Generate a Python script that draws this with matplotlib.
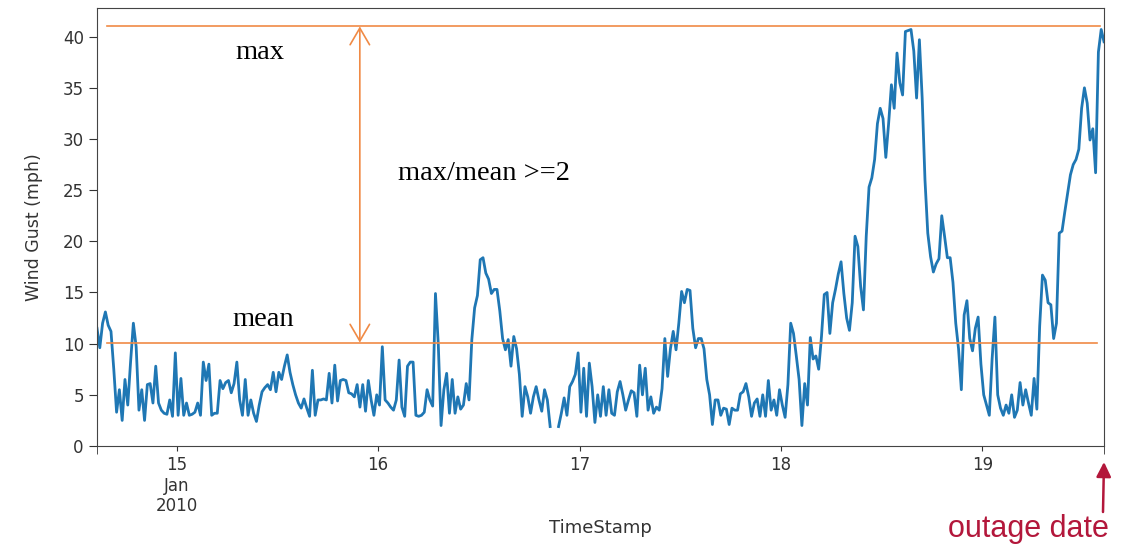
import numpy as np
import pandas as pd
import matplotlib
matplotlib.use('Agg')
import matplotlib.pyplot as plt
import matplotlib.dates as mdates
from matplotlib.ticker import FuncFormatter

# Wind gust readings every 20 minutes, Jan 14 14:30 -> Jan 19 14:30 2010
start_time = '2010-01-14 14:30'
step = '20min'
gust_mph = [
    11.5, 9.6, 12.0, 13.1, 11.8, 11.2, 7.5, 3.3, 5.5, 2.5, 6.5, 4.0,
    8.2, 12.0, 9.7, 3.5, 5.5, 2.5, 6.0, 6.1, 4.2, 7.8, 4.2, 3.5,
    3.2, 3.1, 4.5, 2.9, 9.1, 3.0, 6.6, 3.0, 4.2, 3.0, 3.1, 3.3,
    4.2, 3.0, 8.2, 6.4, 8.0, 3.0, 3.2, 3.2, 6.4, 5.6, 6.2, 6.4,
    5.2, 6.1, 8.2, 4.5, 3.0, 6.5, 3.0, 4.5, 3.2, 2.4, 4.0, 5.3,
    5.7, 6.0, 5.5, 7.2, 5.3, 7.2, 6.5, 7.8, 8.9, 7.2, 6.0, 5.0,
    4.2, 3.7, 4.6, 3.7, 2.9, 7.4, 3.0, 4.5, 4.5, 4.6, 4.5, 7.1,
    4.2, 7.9, 4.4, 6.4, 6.5, 6.4, 5.2, 5.1, 4.8, 6.0, 3.8, 6.0,
    3.4, 6.4, 4.5, 3.0, 5.0, 4.0, 9.7, 4.5, 4.2, 3.8, 3.5, 4.5,
    8.4, 3.8, 2.9, 7.8, 8.2, 8.2, 3.0, 2.9, 3.0, 3.3, 5.5, 4.5,
    3.9, 14.9, 10.0, 2.0, 5.5, 7.1, 3.2, 6.5, 3.2, 4.8, 3.6, 4.0,
    6.1, 4.5, 10.4, 13.5, 14.7, 18.2, 18.4, 16.9, 16.3, 14.9, 15.3, 15.3,
    13.2, 10.5, 9.4, 10.4, 7.8, 10.7, 9.5, 7.0, 2.9, 5.8, 4.8, 3.2,
    4.8, 5.8, 4.5, 3.4, 5.5, 4.5, 1.9, np.nan, np.nan, 1.9, 3.2, 4.7,
    3.0, 5.8, 6.3, 7.0, 9.1, 3.3, 7.6, 2.9, 8.1, 5.8, 2.3, 5.0,
    2.9, 5.8, 3.0, 5.5, 3.2, 3.0, 5.3, 6.3, 5.0, 3.5, 4.5, 5.4,
    5.2, 2.9, 7.9, 5.0, 7.6, 3.5, 4.8, 3.2, 3.8, 3.5, 5.6, 10.5,
    6.8, 9.5, 11.2, 9.4, 12.0, 15.1, 14.0, 15.3, 15.2, 11.5, 9.6, 10.5,
    10.5, 9.5, 6.5, 5.0, 2.1, 4.5, 4.5, 3.0, 3.7, 3.6, 2.1, 3.7,
    3.5, 3.5, 5.1, 5.3, 6.1, 4.8, 2.9, 4.2, 4.6, 2.9, 5.0, 2.9,
    6.4, 3.5, 4.5, 3.0, 5.5, 4.0, 2.8, 6.0, 12.0, 11.0, 8.8, 6.5,
    2.0, 6.1, 4.0, 10.6, 8.5, 8.8, 7.5, 10.7, 14.8, 15.0, 11.0, 14.0,
    15.3, 16.8, 18.0, 14.9, 12.5, 11.3, 14.0, 20.5, 19.5, 15.6, 13.3, 20.5,
    25.3, 26.2, 28.0, 31.5, 33.0, 32.0, 28.2, 31.5, 35.3, 33.0, 38.4, 35.5,
    34.3, 40.5, 40.6, 40.7, 38.6, 34.0, 39.7, 34.0, 26.0, 20.8, 18.5, 17.0,
    17.8, 18.3, 22.5, 20.5, 18.4, 18.4, 16.0, 12.0, 9.5, 5.5, 12.8, 14.2,
    10.5, 9.3, 11.5, 12.6, 8.0, 5.0, 4.0, 3.0, 8.5, 12.6, 5.0, 3.7,
    3.0, 4.0, 3.2, 5.0, 2.8, 3.5, 6.2, 4.0, 5.5, 4.2, 3.0, 6.6,
    3.6, 11.7, 16.7, 16.2, 14.0, 13.8, 10.5, 12.0, 20.8, 21.0, 22.9, 24.7,
    26.5, 27.5, 28.0, 29.0, 33.0, 35.0, 33.5, 29.9, 31.0, 26.7, 38.5, 40.7,
    39.5,
]
yticks = [0, 5, 10, 15, 20, 25, 30, 35, 40]

# annotation levels
max_level = 41.0
mean_level = 10.1

orange = '#F08A45'
crimson = '#B3173B'

times = pd.date_range(start_time, periods=len(gust_mph), freq=step)

fig = plt.figure(figsize=(11.3, 5.44), dpi=100)
ax = fig.add_axes([97/1130, 1 - 446/544, 1007/1130, 438/544])

ax.plot(times, gust_mph, color='#1f77b4', lw=2.0)

ax.set_xlim(times[0], times[-1])
ax.set_ylim(0, 42.8)
ax.set_yticks(yticks)

ax.xaxis.set_major_locator(mdates.DayLocator())
def day_fmt(x, pos):
    d = mdates.num2date(x)
    if d.day == 15:
        return '15\nJan\n2010'
    return str(d.day)
ax.xaxis.set_major_formatter(FuncFormatter(day_fmt))
ax.set_xticks([mdates.date2num(times[0]), mdates.date2num(times[-1])], minor=True)
ax.tick_params(axis='x', which='minor', length=6)
ax.tick_params(axis='both', which='both', colors='#333333', labelsize=12)
ax.tick_params(axis='y', length=6)
for s in ax.spines.values():
    s.set_color('#444444')

ax.set_ylabel('Wind Gust (mph)', fontsize=12.5, color='#333333')
ax.yaxis.set_label_coords(-0.054, 0.5)
ax.set_xlabel('TimeStamp', fontsize=13, color='#333333')
ax.xaxis.set_label_coords(0.5, -0.167)

# max / mean guide lines with double arrow
ax.axhline(max_level, xmin=0.01, xmax=0.996, color=orange, lw=1.2)
ax.axhline(mean_level, xmin=0.01, xmax=0.993, color=orange, lw=1.2)
ax.annotate('', xy=(0.261, max_level), xytext=(0.261, mean_level),
            xycoords=('axes fraction', 'data'),
            arrowprops=dict(arrowstyle='<->,head_length=0.6,head_width=0.35',
                            color=orange, lw=1.2, mutation_scale=20,
                            shrinkA=0, shrinkB=0))

serif = ['Liberation Serif', 'DejaVu Serif']
fig.text(260/1130, 1 - 59/544, 'max', family=serif, fontsize=20.5,
         ha='center', va='baseline')
fig.text(263/1130, 1 - 326/544, 'mean', family=serif, fontsize=20.5,
         ha='center', va='baseline')
fig.text(398/1130, 1 - 180/544, 'max/mean >=2', family=serif, fontsize=20.5,
         ha='left', va='baseline')

# outage date marker
ax.annotate('', xy=(1104, 544 - 462), xytext=(1103, 544 - 512),
            xycoords='figure pixels', textcoords='figure pixels',
            arrowprops=dict(arrowstyle='-|>', color=crimson, lw=1.8,
                            mutation_scale=22, shrinkA=0, shrinkB=0))
fig.text(1028/1130, 1 - 529/544, 'outage date', family=['Liberation Sans', 'DejaVu Sans'],
         fontsize=22, color=crimson, ha='center', va='center')

fig.savefig('out.png', dpi=100)
